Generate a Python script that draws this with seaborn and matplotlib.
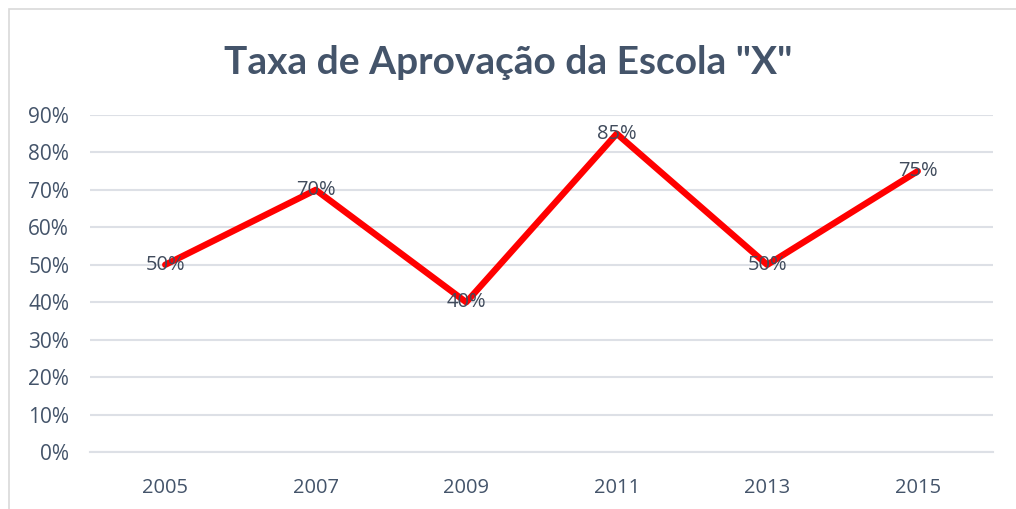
import matplotlib
matplotlib.use("Agg")
import matplotlib.pyplot as plt
import seaborn as sns
import pandas as pd
from matplotlib.patches import Rectangle
from matplotlib.ticker import PercentFormatter

# dados do grafico
anos = ["2005", "2007", "2009", "2011", "2013", "2015"]
taxas = [0.50, 0.70, 0.40, 0.85, 0.50, 0.75]
titulo = 'Taxa de Aprovação da Escola "X"'

df = pd.DataFrame({"Ano": anos, "Taxa": taxas})

sns.set_style("white")
plt.rcParams["font.family"] = ["Open Sans", "DejaVu Sans"]

cor_texto = "#44546A"
cor_grade = "#DDE0E6"

fig = plt.figure(figsize=(10.16, 5.09), dpi=100)
ax = fig.add_axes([90 / 1016, 1 - 452 / 509, 903 / 1016, 337 / 509])

sns.lineplot(data=df, x="Ano", y="Taxa", color="#FF0000", linewidth=4.6, ax=ax, sort=False)

for i, v in enumerate(taxas):
    ax.text(i, v, f"{int(round(v * 100))}%", ha="center", va="center",
            fontsize=14.5, color="#404B5C", zorder=5)

ax.set_xlim(-0.5, len(anos) - 0.5)
ax.set_ylim(0, 0.9)
ax.set_yticks([i / 10 for i in range(10)])
ax.yaxis.set_major_formatter(PercentFormatter(1.0, decimals=0))
ax.grid(axis="y", color=cor_grade, linewidth=1.5)
ax.set_axisbelow(True)

# marcas entre as categorias
ax.set_xticks(range(len(anos)))
ax.set_xticks([i - 0.5 for i in range(len(anos) + 1)], minor=True)
ax.tick_params(axis="x", which="major", length=0, pad=19, labelsize=14.5, labelcolor=cor_texto)
ax.tick_params(axis="x", which="minor", length=7, width=1.5, color=cor_grade, direction="out")
ax.tick_params(axis="y", length=0, pad=15, labelsize=15, labelcolor=cor_texto)

for s in ["top", "right", "left"]:
    ax.spines[s].set_visible(False)
ax.spines["bottom"].set_color(cor_grade)
ax.spines["bottom"].set_linewidth(1.5)

ax.set_xlabel("")
ax.set_ylabel("")

fig.text(0.5, 1 - 62 / 509, titulo, ha="center", va="center",
         fontsize=28, fontweight="bold", color=cor_texto,
         family=["Lato", "DejaVu Sans"])

# moldura do grafico
fig.patches.append(Rectangle((9 / 1016, -0.05), 1.2, 1 - 9 / 509 + 0.05,
                             transform=fig.transFigure, fill=False,
                             edgecolor="#D9D9D9", linewidth=1.2))

fig.savefig("out.png", dpi=100)
